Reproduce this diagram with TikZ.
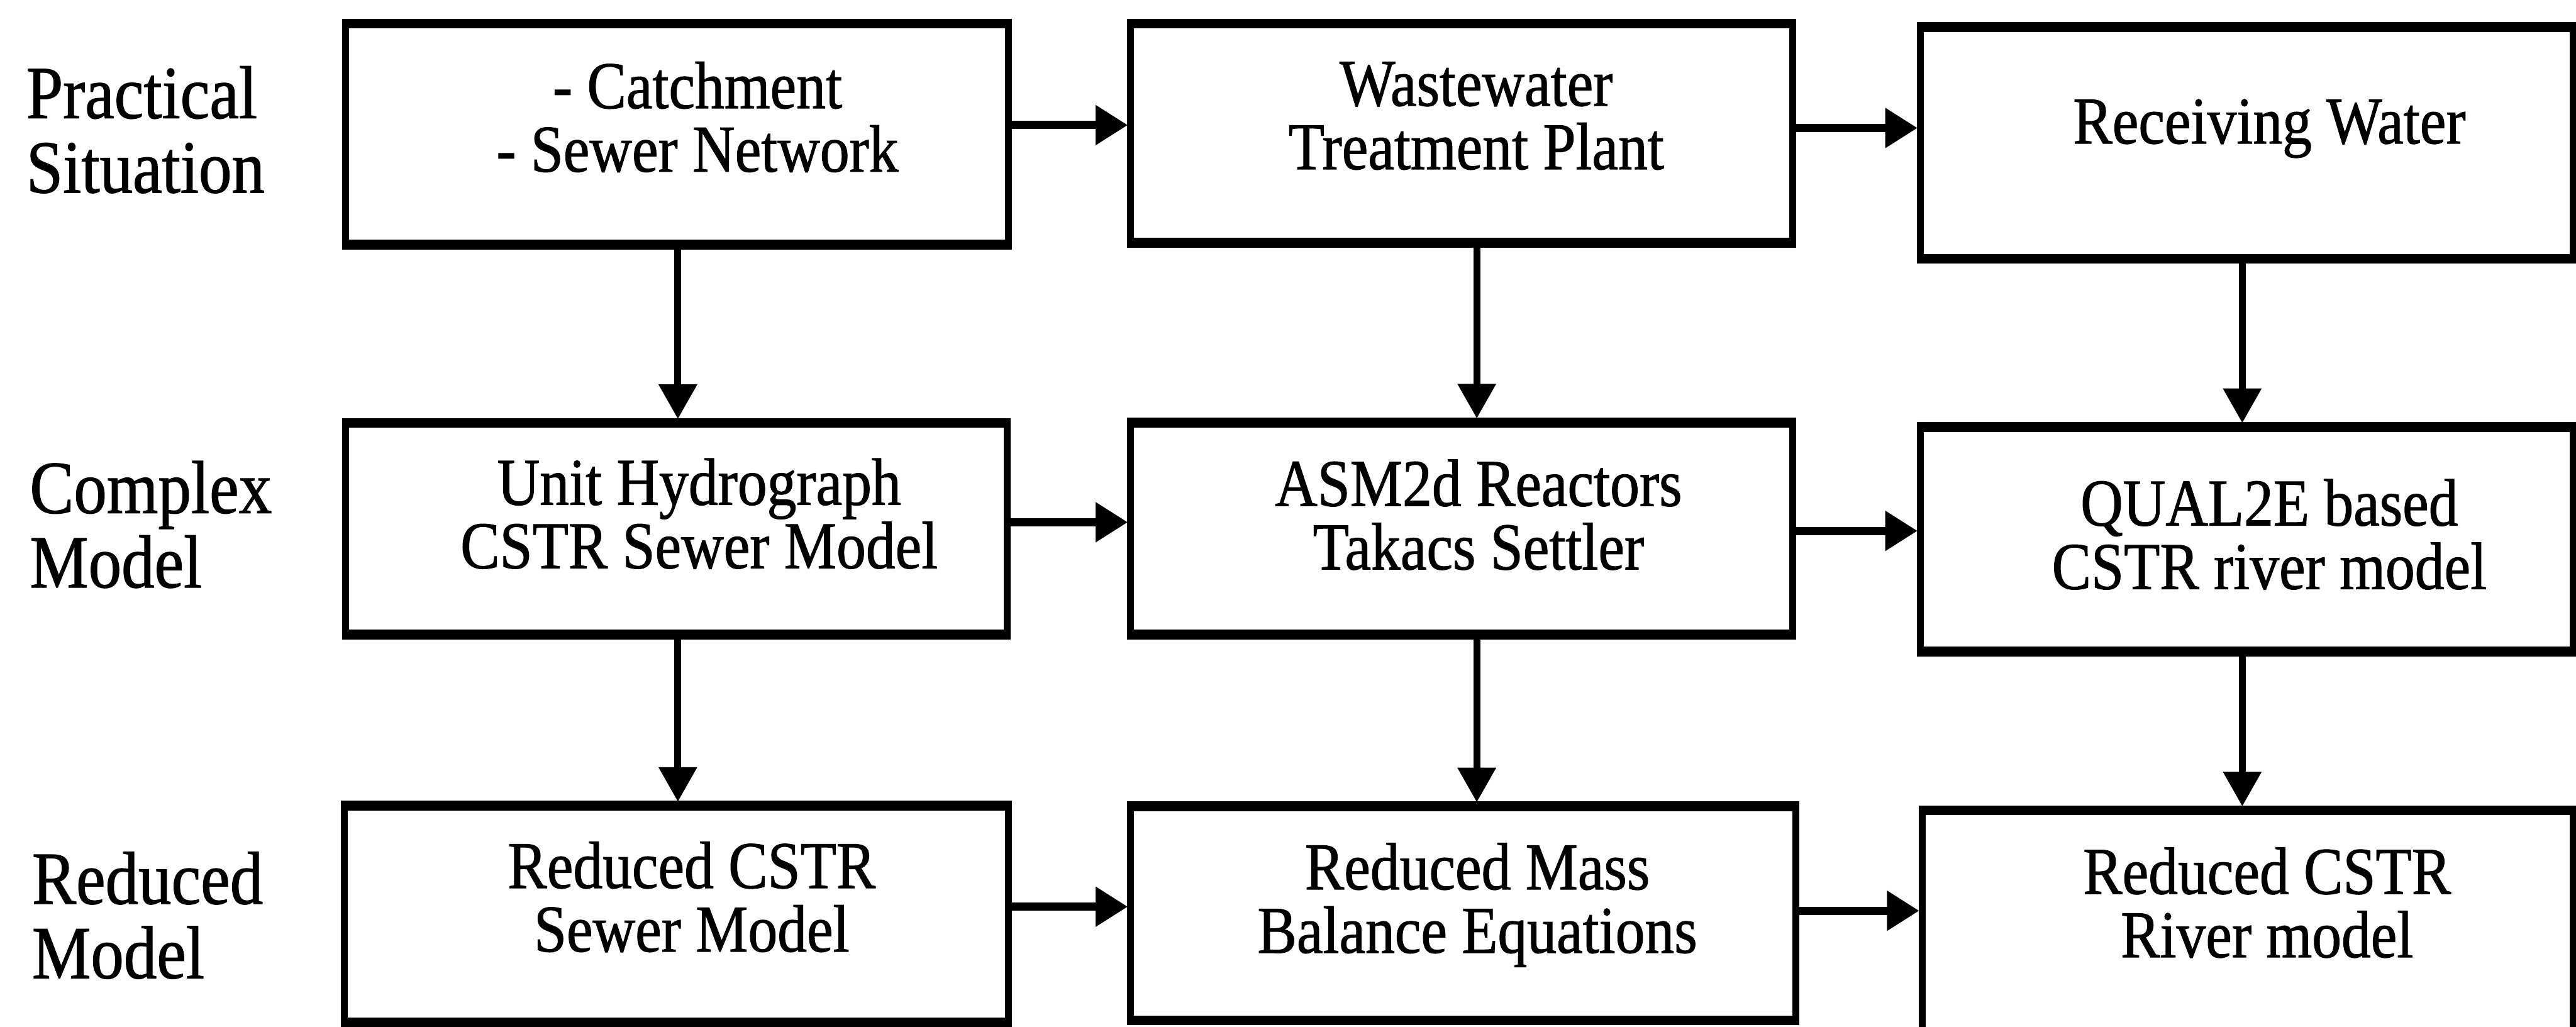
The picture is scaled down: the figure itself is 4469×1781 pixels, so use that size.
\documentclass[tikz,border=0pt]{standalone}
\usepackage{fontspec}
\setmainfont{Liberation Serif}[FakeStretch=0.88,FakeBold=1]
\usetikzlibrary{arrows.meta}
\begin{document}
\begin{tikzpicture}[x=0.01cm,y=-0.01cm,
  box/.style={draw, line width=0.12cm, inner sep=0pt, outer sep=0pt, line join=miter},
  hedge/.style={line width=0.17cm, shorten <=-0.06cm, shorten >=-0.06cm},
  boxtext/.style={align=center, inner sep=0pt, font=\fontsize{33pt}{31.3pt}\selectfont},
  rowlabel/.style={align=left, anchor=west, inner sep=0pt, font=\fontsize{37pt}{36.7pt}\selectfont},
  harr/.style={line width=0.14cm, -{Triangle[length=0.56cm,width=0.66cm]}, shorten >=0.05cm},
  varr/.style={line width=0.12cm, -{Triangle[length=0.6cm,width=0.64cm]}, shorten >=0.07cm},
]
\useasboundingbox (0,0) rectangle (4469,1781);
\fill[white] (0,0) rectangle (4469,1781);
\clip (0,0) rectangle (4469,1781);

% row labels
\node[rowlabel] (l1) at (45,225)  {Practical\\Situation};
\node[rowlabel] (l2) at (51,910)  {Complex\\Model};
\node[rowlabel] (l3) at (55,1588) {Reduced\\Model};

% boxes
\node[box, minimum width=11.49cm, minimum height=3.83cm] (b11) at (1174.5,232.5) {};
\node[box, minimum width=11.48cm, minimum height=3.80cm] (b12) at (2536,231) {};
\node[box, minimum width=11.32cm, minimum height=4.02cm] (b13) at (3898,248) {};
\node[box, minimum width=11.47cm, minimum height=3.67cm] (b21) at (1173.5,917.5) {};
\node[box, minimum width=11.48cm, minimum height=3.68cm] (b22) at (2536,917) {};
\node[box, minimum width=11.32cm, minimum height=3.89cm] (b23) at (3898,935.5) {};
\node[box, minimum width=11.51cm, minimum height=3.76cm] (b31) at (1173.5,1586) {};
\node[box, minimum width=11.53cm, minimum height=3.71cm] (b32) at (2538.5,1584.5) {};
\node[box, minimum width=11.29cm, minimum height=3.84cm] (b33) at (3899.5,1598) {};

% heavier top and bottom edges
\foreach \n in {b11,b12,b13,b21,b22,b23,b31,b32,b33}{
  \draw[hedge] (\n.north west) -- (\n.north east);
  \draw[hedge] (\n.south west) -- (\n.south east);
}

% box texts
\node[boxtext] (t11) at (1210,203)  {- Catchment\\- Sewer Network};
\node[boxtext] (t12) at (2561,201)  {Wastewater\\Treatment Plant};
\node[boxtext] (t13) at (3937,223)  {Receiving Water};
\node[boxtext] (t21) at (1213,891)  {Unit Hydrograph\\CSTR Sewer Model};
\node[boxtext] (t22) at (2565,893)  {ASM2d Reactors\\Takacs Settler};
\node[boxtext] (t23) at (3937,927)  {QUAL2E based\\CSTR river model};
\node[boxtext] (t31) at (1200,1556) {Reduced CSTR\\Sewer Model};
\node[boxtext] (t32) at (2563,1570) {Reduced Mass\\Balance Equations};
\node[boxtext] (t33) at (3933,1566) {Reduced CSTR\\River model};

% reference lines for the connectors
\coordinate (h11) at (0,217);  \coordinate (h12) at (0,222);
\coordinate (h21) at (0,906);  \coordinate (h22) at (0,921);
\coordinate (h31) at (0,1573); \coordinate (h32) at (0,1580);
\coordinate (v1) at (1176,0); \coordinate (v2) at (2562,0); \coordinate (v3) at (3890,0);

% horizontal flow
\draw[harr] (b11.east |- h11) -- (b12.west |- h11);
\draw[harr] (b12.east |- h12) -- (b13.west |- h12);
\draw[harr] (b21.east |- h21) -- (b22.west |- h21);
\draw[harr] (b22.east |- h22) -- (b23.west |- h22);
\draw[harr] (b31.east |- h31) -- (b32.west |- h31);
\draw[harr] (b32.east |- h32) -- (b33.west |- h32);

% vertical flow
\draw[varr] (b11.south -| v1) -- (b21.north -| v1);
\draw[varr] (b21.south -| v1) -- (b31.north -| v1);
\draw[varr] (b12.south -| v2) -- (b22.north -| v2);
\draw[varr] (b22.south -| v2) -- (b32.north -| v2);
\draw[varr] (b13.south -| v3) -- (b23.north -| v3);
\draw[varr] (b23.south -| v3) -- (b33.north -| v3);
\end{tikzpicture}
\end{document}
